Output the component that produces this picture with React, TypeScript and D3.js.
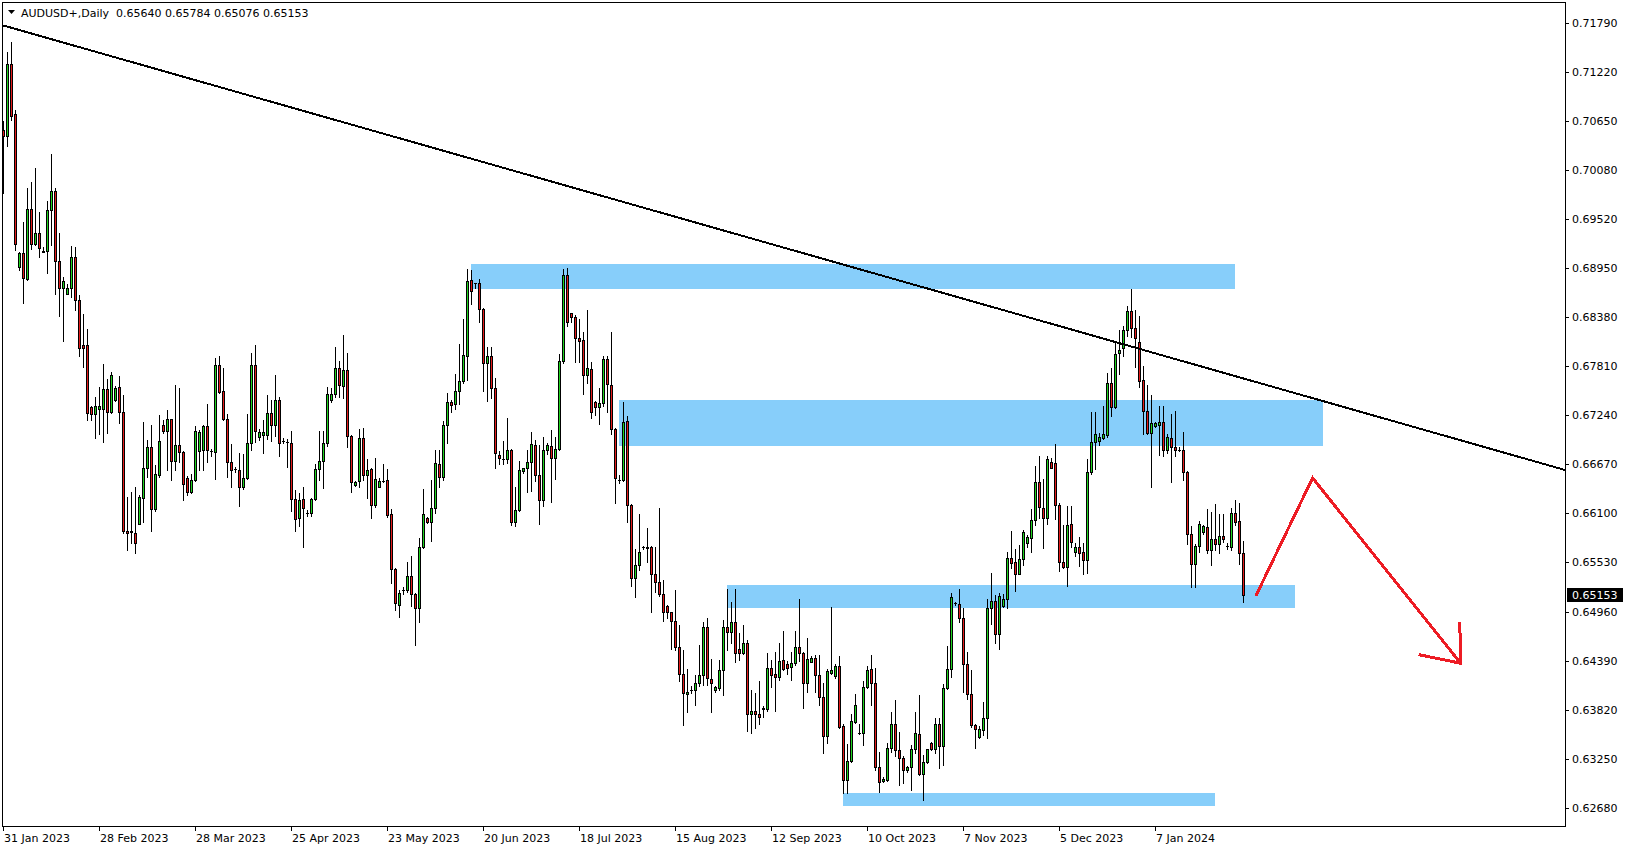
import React from "react";
import * as d3 from "d3";

// ---- OHLC data (AUDUSD+, Daily, one value per bar) ----
const opens = [
0.7055,0.7048,0.7131,0.7073,0.6896,0.6912,0.6882,0.6963,0.6923,0.6935,
0.6914,0.6914,0.6962,0.6984,0.6903,0.6872,0.6865,0.6872,0.6907,0.6857,
0.6805,0.6805,0.6733,0.6725,0.6731,0.6731,0.6754,0.6727,0.6742,0.6756,
0.6728,0.6589,0.6589,0.6587,0.6598,0.6628,0.6663,0.6687,0.6615,0.6654,
0.6713,0.6706,0.6719,0.6671,0.6689,0.6681,0.6651,0.6635,0.6649,0.6682,
0.6683,0.6711,0.6682,0.6681,0.6782,0.6752,0.6720,0.6670,0.6661,0.6660,
0.6640,0.6651,0.6691,0.6782,0.6699,0.6701,0.6701,0.6726,0.6713,0.6742,
0.6694,0.6693,0.6692,0.6627,0.6604,0.6627,0.6610,0.6610,0.6627,0.6661,
0.6671,0.6691,0.6741,0.6749,0.6779,0.6758,0.6776,0.6700,0.6643,0.6648,
0.6697,0.6655,0.6661,0.6620,0.6641,0.6648,0.6649,0.6609,0.6545,0.6504,
0.6521,0.6521,0.6537,0.6516,0.6500,0.6571,0.6605,0.6600,0.6616,0.6667,
0.6652,0.6713,0.6739,0.6737,0.6752,0.6764,0.6793,0.6881,0.6877,0.6877,
0.6847,0.6784,0.6793,0.6755,0.6678,0.6673,0.6673,0.6684,0.6600,0.6614,
0.6659,0.6662,0.6670,0.6689,0.6654,0.6625,0.6684,0.6688,0.6674,0.6685,
0.6787,0.6887,0.6842,0.6838,0.6813,0.6811,0.6771,0.6778,0.6739,0.6733,
0.6738,0.6789,0.6759,0.6708,0.6649,0.6649,0.6717,0.6620,0.6535,0.6550,
0.6571,0.6571,0.6571,0.6540,0.6530,0.6516,0.6502,0.6495,0.6485,0.6455,
0.6424,0.6400,0.6405,0.6405,0.6413,0.6422,0.6478,0.6418,0.6405,0.6407,
0.6428,0.6478,0.6472,0.6484,0.6453,0.6448,0.6460,0.6377,0.6380,0.6377,
0.6383,0.6383,0.6430,0.6424,0.6420,0.6440,0.6435,0.6432,0.6436,0.6455,
0.6448,0.6413,0.6438,0.6442,0.6422,0.6397,0.6351,0.6425,0.6421,0.6433,
0.6363,0.6300,0.6323,0.6368,0.6355,0.6355,0.6408,0.6429,0.6413,0.6315,
0.6299,0.6300,0.6338,0.6365,0.6335,0.6326,0.6312,0.6315,0.6336,0.6354,
0.6308,0.6321,0.6343,0.6337,0.6365,0.6340,0.6407,0.6429,0.6506,0.6505,
0.6489,0.6435,0.6400,0.6364,0.6350,0.6358,0.6373,0.6500,0.6508,0.6470,
0.6502,0.6510,0.6558,0.6554,0.6540,0.6557,0.6575,0.6581,0.6602,0.6646,
0.6616,0.6605,0.6669,0.6668,0.6620,0.6553,0.6548,0.6598,0.6565,0.6571,
0.6565,0.6556,0.6658,0.6693,0.6694,0.6697,0.6701,0.6761,0.6733,0.6796,
0.6802,0.6823,0.6845,0.6825,0.6809,0.6765,0.6729,0.6703,0.6711,0.6712,
0.6716,0.6684,0.6697,0.6687,0.6684,0.6684,0.6658,0.6586,0.6551,0.6572,
0.6588,0.6594,0.6567,0.6580,0.6574,0.6584,0.6572,0.6571,0.6610,0.6601,
0.65640];

const highs = [
0.7065,0.7145,0.7157,0.7078,0.6913,0.6948,0.6987,0.6995,0.7011,0.6960,
0.6919,0.6972,0.7027,0.6988,0.6935,0.6884,0.6876,0.6920,0.6919,0.6863,
0.6841,0.6824,0.6734,0.6745,0.6756,0.6783,0.6766,0.6774,0.6758,0.6769,
0.6747,0.6629,0.6635,0.6641,0.6631,0.6716,0.6695,0.6712,0.6666,0.6724,
0.6718,0.6730,0.6720,0.6759,0.6755,0.6682,0.6653,0.6656,0.6711,0.6707,
0.6713,0.6737,0.6685,0.6790,0.6793,0.6779,0.6725,0.6690,0.6664,0.6680,
0.6679,0.6725,0.6796,0.6805,0.6708,0.6718,0.6747,0.6741,0.6771,0.6745,
0.6697,0.6696,0.6706,0.6637,0.6633,0.6641,0.6614,0.6628,0.6667,0.6705,
0.6705,0.6757,0.6755,0.6803,0.6787,0.6817,0.6796,0.6701,0.6647,0.6708,
0.6709,0.6673,0.6662,0.6674,0.6651,0.6667,0.6661,0.6615,0.6546,0.6521,
0.6524,0.6554,0.6560,0.6517,0.6581,0.6638,0.6606,0.6649,0.6684,0.6684,
0.6717,0.6750,0.6742,0.6772,0.6806,0.6835,0.6894,0.6892,0.6877,0.6882,
0.6848,0.6803,0.6803,0.6767,0.6682,0.6694,0.6721,0.6685,0.6641,0.6671,
0.6663,0.6684,0.6704,0.6695,0.6689,0.6699,0.6691,0.6707,0.6699,0.6795,
0.6894,0.6895,0.6843,0.6840,0.6836,0.6820,0.6846,0.6786,0.6740,0.6755,
0.6793,0.6793,0.6820,0.6709,0.6654,0.6739,0.6723,0.6621,0.6568,0.6609,
0.6572,0.6593,0.6572,0.6571,0.6616,0.6533,0.6503,0.6496,0.6521,0.6480,
0.6451,0.6429,0.6409,0.6422,0.6457,0.6484,0.6488,0.6441,0.6409,0.6440,
0.6486,0.6522,0.6507,0.6522,0.6471,0.6480,0.6463,0.6405,0.6401,0.6415,
0.6386,0.6448,0.6440,0.6449,0.6459,0.6473,0.6439,0.6449,0.6473,0.6511,
0.6449,0.6465,0.6444,0.6446,0.6445,0.6413,0.6429,0.6501,0.6435,0.6444,
0.6366,0.6342,0.6377,0.6400,0.6365,0.6415,0.6433,0.6446,0.6431,0.6333,
0.6304,0.6344,0.6379,0.6393,0.6356,0.6328,0.6317,0.6341,0.6379,0.6399,
0.6330,0.6337,0.6345,0.6373,0.6373,0.6412,0.6456,0.6517,0.6507,0.6522,
0.6500,0.6449,0.6428,0.6366,0.6363,0.6391,0.6511,0.6541,0.6515,0.6517,
0.6516,0.6565,0.6590,0.6569,0.6573,0.6591,0.6585,0.6615,0.6665,0.6677,
0.6650,0.6677,0.6674,0.6690,0.6622,0.6596,0.6619,0.6619,0.6575,0.6582,
0.6575,0.6673,0.6728,0.6727,0.6703,0.6735,0.6773,0.6779,0.6808,0.6823,
0.6827,0.6851,0.6870,0.6846,0.6839,0.6781,0.6759,0.6747,0.6716,0.6735,
0.6735,0.6702,0.6725,0.6729,0.6687,0.6704,0.6659,0.6595,0.6574,0.6601,
0.6596,0.6615,0.6611,0.6621,0.6609,0.6609,0.6576,0.6616,0.6625,0.6622,
0.65784];

const lows = [
0.6982,0.7036,0.7067,0.6916,0.6892,0.6854,0.6881,0.6917,0.6921,0.6908,
0.6913,0.6889,0.6921,0.6864,0.6839,0.6810,0.6864,0.6861,0.6846,0.6793,
0.6780,0.6718,0.6718,0.6697,0.6702,0.6693,0.6703,0.6726,0.6740,0.6715,
0.6587,0.6567,0.6575,0.6564,0.6597,0.6600,0.6652,0.6589,0.6613,0.6652,
0.6703,0.6660,0.6649,0.6660,0.6669,0.6625,0.6631,0.6633,0.6647,0.6660,
0.6660,0.6670,0.6677,0.6650,0.6750,0.6718,0.6652,0.6640,0.6658,0.6619,
0.6638,0.6650,0.6684,0.6693,0.6695,0.6680,0.6696,0.6694,0.6700,0.6677,
0.6692,0.6664,0.6613,0.6590,0.6595,0.6571,0.6607,0.6607,0.6626,0.6649,
0.6639,0.6688,0.6739,0.6745,0.6745,0.6744,0.6687,0.6635,0.6642,0.6641,
0.6649,0.6628,0.6604,0.6617,0.6640,0.6646,0.6606,0.6529,0.6498,0.6490,
0.6516,0.6519,0.6502,0.6457,0.6484,0.6570,0.6599,0.6578,0.6610,0.6641,
0.6649,0.6692,0.6728,0.6731,0.6737,0.6761,0.6765,0.6853,0.6871,0.6832,
0.6752,0.6740,0.6744,0.6662,0.6667,0.6667,0.6668,0.6596,0.6595,0.6613,
0.6657,0.6635,0.6636,0.6647,0.6598,0.6619,0.6679,0.6623,0.6650,0.6684,
0.6784,0.6827,0.6832,0.6786,0.6786,0.6749,0.6761,0.6721,0.6724,0.6714,
0.6734,0.6728,0.6702,0.6622,0.6645,0.6647,0.6600,0.6526,0.6513,0.6544,
0.6569,0.6554,0.6496,0.6519,0.6514,0.6485,0.6488,0.6453,0.6451,0.6415,
0.6364,0.6379,0.6401,0.6387,0.6410,0.6411,0.6411,0.6379,0.6403,0.6405,
0.6399,0.6451,0.6460,0.6438,0.6440,0.6447,0.6357,0.6355,0.6361,0.6366,
0.6374,0.6380,0.6408,0.6380,0.6416,0.6428,0.6424,0.6416,0.6434,0.6439,
0.6384,0.6403,0.6437,0.6403,0.6387,0.6332,0.6344,0.6424,0.6419,0.6361,
0.6285,0.6285,0.6321,0.6367,0.6354,0.6341,0.6407,0.6387,0.6312,0.6286,
0.6298,0.6299,0.6333,0.6328,0.6295,0.6297,0.6310,0.6289,0.6332,0.6306,
0.6277,0.6320,0.6335,0.6332,0.6314,0.6318,0.6406,0.6420,0.6503,0.6484,
0.6403,0.6395,0.6362,0.6338,0.6349,0.6353,0.6349,0.6482,0.6460,0.6452,
0.6501,0.6500,0.6546,0.6520,0.6539,0.6550,0.6571,0.6565,0.6596,0.6605,
0.6570,0.6598,0.6662,0.6603,0.6543,0.6546,0.6526,0.6571,0.6560,0.6549,
0.6539,0.6541,0.6656,0.6661,0.6689,0.6696,0.6699,0.6723,0.6732,0.6772,
0.6793,0.6816,0.6815,0.6780,0.6756,0.6702,0.6702,0.6640,0.6710,0.6678,
0.6677,0.6680,0.6646,0.6677,0.6682,0.6649,0.6574,0.6524,0.6524,0.6565,
0.6586,0.6564,0.6550,0.6567,0.6564,0.6577,0.6569,0.6567,0.6596,0.6551,
0.65076];

const closes = [
0.7048,0.7131,0.7071,0.6922,0.6912,0.6883,0.6963,0.6923,0.6935,0.6918,
0.6913,0.6962,0.6984,0.6903,0.6872,0.6879,0.6871,0.6907,0.6857,0.6802,
0.6802,0.6726,0.6725,0.6734,0.6734,0.6754,0.6727,0.6770,0.6755,0.6728,
0.6589,0.6587,0.6588,0.6576,0.6629,0.6663,0.6687,0.6615,0.6656,0.6694,
0.6706,0.6719,0.6671,0.6689,0.6681,0.6644,0.6635,0.6649,0.6706,0.6704,
0.6711,0.6684,0.6682,0.6782,0.6751,0.6719,0.6670,0.6660,0.6661,0.6640,
0.6651,0.6691,0.6782,0.6706,0.6704,0.6704,0.6726,0.6713,0.6742,0.6691,
0.6694,0.6693,0.6627,0.6603,0.6626,0.6616,0.6610,0.6627,0.6661,0.6671,
0.6692,0.6749,0.6749,0.6779,0.6759,0.6776,0.6700,0.6646,0.6646,0.6697,
0.6655,0.6660,0.6620,0.6650,0.6648,0.6648,0.6608,0.6545,0.6506,0.6518,
0.6521,0.6537,0.6516,0.6500,0.6571,0.6609,0.6600,0.6616,0.6668,0.6652,
0.6712,0.6739,0.6736,0.6752,0.6764,0.6794,0.6880,0.6868,0.6877,0.6847,
0.6784,0.6793,0.6755,0.6680,0.6674,0.6673,0.6684,0.6600,0.6614,0.6660,
0.6662,0.6670,0.6690,0.6654,0.6625,0.6684,0.6689,0.6674,0.6685,0.6787,
0.6887,0.6832,0.6838,0.6813,0.6810,0.6771,0.6779,0.6728,0.6733,0.6738,
0.6789,0.6760,0.6708,0.6651,0.6649,0.6716,0.6620,0.6535,0.6550,0.6565,
0.6571,0.6570,0.6540,0.6530,0.6516,0.6495,0.6495,0.6485,0.6455,0.6424,
0.6401,0.6403,0.6405,0.6413,0.6422,0.6478,0.6419,0.6413,0.6408,0.6428,
0.6478,0.6472,0.6484,0.6448,0.6448,0.6460,0.6377,0.6380,0.6377,0.6374,
0.6384,0.6431,0.6422,0.6420,0.6439,0.6429,0.6431,0.6436,0.6455,0.6448,
0.6413,0.6441,0.6442,0.6422,0.6397,0.6351,0.6427,0.6428,0.6433,0.6362,
0.6300,0.6323,0.6369,0.6388,0.6355,0.6408,0.6428,0.6413,0.6315,0.6298,
0.6302,0.6338,0.6366,0.6335,0.6326,0.6312,0.6315,0.6336,0.6355,0.6308,
0.6321,0.6336,0.6337,0.6365,0.6340,0.6407,0.6429,0.6513,0.6506,0.6489,
0.6435,0.6400,0.6364,0.6360,0.6360,0.6373,0.6500,0.6508,0.6470,0.6514,
0.6511,0.6558,0.6552,0.6540,0.6557,0.6588,0.6582,0.6602,0.6646,0.6617,
0.6604,0.6673,0.6663,0.6620,0.6553,0.6548,0.6596,0.6577,0.6571,0.6564,
0.6556,0.6658,0.6693,0.6702,0.6698,0.6702,0.6761,0.6733,0.6795,0.6800,
0.6823,0.6845,0.6825,0.6814,0.6764,0.6729,0.6703,0.6715,0.6715,0.6716,
0.6683,0.6698,0.6687,0.6683,0.6684,0.6658,0.6586,0.6551,0.6572,0.6597,
0.6595,0.6567,0.6580,0.6574,0.6584,0.6580,0.6572,0.6610,0.6600,0.6564,
0.65153];

// ---- axis labels ----
const priceTicks = [0.71790,0.71220,0.70650,0.70080,0.69520,0.68950,0.68380,0.67810,0.67240,0.66670,0.66100,0.65530,0.64960,0.64390,0.63820,0.63250,0.62680];
const dateLabels = ["31 Jan 2023","28 Feb 2023","28 Mar 2023","25 Apr 2023","23 May 2023","20 Jun 2023","18 Jul 2023","15 Aug 2023","12 Sep 2023","10 Oct 2023","7 Nov 2023","5 Dec 2023","7 Jan 2024"];
const dateLabelBars = [0,24,48,72,96,120,144,168,192,216,240,264,288];

const symbolTitle = "AUDUSD+,Daily";
const lastOHLC = [0.65640, 0.65784, 0.65076, 0.65153];

// ---- drawn objects (bar index / price) ----
const zoneStartBars = [117, 154, 181, 210];
const zoneEndBars = [308, 330, 323, 303];
const zoneTops = [0.68993, 0.67415, 0.65268, 0.62854];
const zoneBottoms = [0.68703, 0.66881, 0.65001, 0.62703];

const trendBars = [0, 391];
const trendPrices = [0.71762, 0.66596];

const pathBars = [313.2, 327.4, 364.4];
const pathPrices = [0.6514, 0.6651, 0.6436];
const headBars = [364.2, 364.4, 353.9];
const headPrices = [0.6484, 0.6436, 0.6446];

const W = 1629, H = 850;
const PL = 2, PT = 3, PR = 1565, PB = 826;

export default function App() {
  const n = closes.length;
  const x = d3.scaleLinear().domain([0, n - 1]).range([3, 3 + 4 * (n - 1)]);
  const y = d3.scaleLinear().domain([0.62471, 0.72022]).range([PB, PT]);

  const line = d3.line<[number, number]>().x(d => x(d[0])).y(d => y(d[1]));
  const trendPts = trendBars.map((b, i) => [b, trendPrices[i]] as [number, number]);
  const pathPts = pathBars.map((b, i) => [b, pathPrices[i]] as [number, number]);
  const headPts = headBars.map((b, i) => [b, headPrices[i]] as [number, number]);

  const candles = d3.range(n).map(i => {
    const o = opens[i], h = highs[i], l = lows[i], c = closes[i];
    const cx = Math.round(x(i));
    const yh = Math.round(y(h)), yl = Math.round(y(l));
    const top = Math.round(y(Math.max(o, c)));
    const bot = Math.round(y(Math.min(o, c)));
    const col = c >= o ? "#1fd31f" : "#e31b1b";
    return (
      <g key={i}>
        <rect x={cx} y={yh} width={1} height={Math.max(1, yl - yh + 1)} fill="#000" />
        <rect x={cx - 1} y={top} width={3} height={bot - top + 1} fill="#000" />
        {bot - top >= 2 && (
          <rect x={cx} y={top + 1} width={1} height={bot - top - 1} fill={col} />
        )}
      </g>
    );
  });

  const lastY = Math.round(y(lastOHLC[3]));

  return (
    <svg width={W} height={H} style={{ position: "absolute", left: 0, top: 0, background: "#fff" }}
      fontFamily="'DejaVu Sans', sans-serif" fontSize={11}>
      <defs>
        <clipPath id="plotClip">
          <rect x={PL} y={PT} width={PR - PL} height={PB - PT} />
        </clipPath>
      </defs>
      <rect x={0} y={0} width={W} height={H} fill="#fff" />
      <g clipPath="url(#plotClip)" shapeRendering="crispEdges">
        {zoneStartBars.map((b, i) => {
          const x1 = Math.round(x(b)), x2 = Math.round(x(zoneEndBars[i]));
          const y1 = Math.round(y(zoneTops[i])), y2 = Math.round(y(zoneBottoms[i]));
          return <rect key={i} x={x1} y={y1} width={x2 - x1} height={y2 - y1} fill="#87cefa" />;
        })}
        {candles}
        <path d={line(trendPts) || ""} stroke="#000" strokeWidth={2} fill="none" />
        <path d={line(pathPts) || ""} stroke="#ed1c24" strokeWidth={3} fill="none" strokeLinejoin="miter" />
        <path d={line(headPts) || ""} stroke="#ed1c24" strokeWidth={3} fill="none" />
      </g>
      {/* frame */}
      <rect x={PL + 0.5} y={PT - 0.5} width={PR - PL} height={PB - PT + 1} fill="none" stroke="#000" strokeWidth={1} shapeRendering="crispEdges" />
      {/* price axis */}
      {priceTicks.map((p, i) => {
        const ty = Math.round(y(p));
        return (
          <g key={i}>
            <rect x={PR} y={ty} width={4} height={1} fill="#000" />
            <text x={1572} y={ty + 4} fill="#000">{p.toFixed(5)}</text>
          </g>
        );
      })}
      <rect x={1567} y={lastY - 7} width={56} height={14} fill="#000" />
      <text x={1572} y={lastY + 4} fill="#fff">{lastOHLC[3].toFixed(5)}</text>
      {/* time axis */}
      {dateLabelBars.map((b, i) => {
        const tx = Math.round(x(b));
        return (
          <g key={i}>
            <rect x={tx} y={PB} width={1} height={5} fill="#000" />
            <text x={tx + 1} y={842} fill="#000">{dateLabels[i]}</text>
          </g>
        );
      })}
      {/* header */}
      <polygon points="8,10 15,10 11.5,14" fill="#000" />
      <text x={21} y={17} fill="#000" style={{ whiteSpace: "pre" }}>
        {symbolTitle + "  " + lastOHLC.map(v => v.toFixed(5)).join(" ")}
      </text>
    </svg>
  );
}
